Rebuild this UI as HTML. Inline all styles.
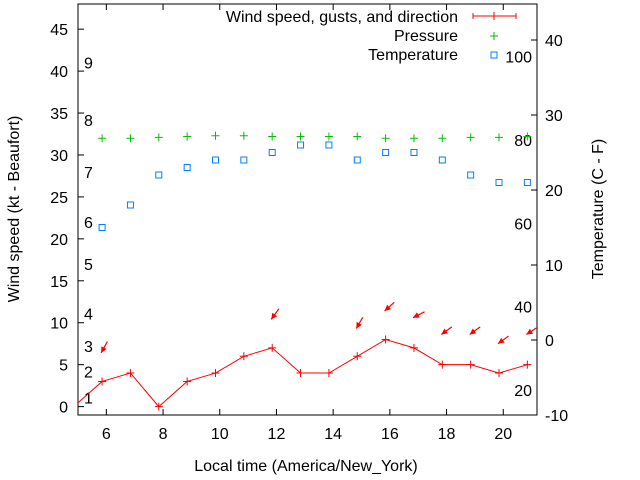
<!DOCTYPE html>
<html><head><meta charset="utf-8"><style>
html,body{margin:0;padding:0;background:#fff}
svg{display:block;font-family:"Liberation Sans",sans-serif}
</style></head><body>
<svg id="chart" width="640" height="480" viewBox="0 0 640 480">
<defs><clipPath id="plotclip"><rect x="78" y="4" width="459" height="411"/></clipPath></defs>
<rect x="0" y="0" width="640" height="480" fill="#fff"/>
<g id="axes"></g>
<g id="marks" clip-path="url(#plotclip)"></g>
<g id="legend">
  <text x="458" y="22" font-size="16" text-anchor="end">Wind speed, gusts, and direction</text>
  <line x1="473" y1="16" x2="516" y2="16" stroke="#f00" stroke-width="1"/>
  <line x1="473" y1="13" x2="473" y2="19" stroke="#f00"/>
  <line x1="516" y1="13" x2="516" y2="19" stroke="#f00"/>
  <path d="M490 16h8M494 12v8" stroke="#f00"/>
  <text x="458" y="41" font-size="16" text-anchor="end">Pressure</text>
  <path d="M490 36h8M494 32v8" stroke="#00c000"/>
  <text x="458" y="60" font-size="16" text-anchor="end">Temperature</text>
  <rect x="491" y="52" width="6" height="6" fill="none" stroke="#0080ff"/>
</g>
<text x="306" y="471" font-size="16" text-anchor="middle">Local time (America/New_York)</text>
<text transform="translate(19,209) rotate(-90)" font-size="16" text-anchor="middle">Wind speed (kt - Beaufort)</text>
<text transform="translate(603,209) rotate(-90)" font-size="16" text-anchor="middle">Temperature (C - F)</text>
</svg>
<script>
const times = [4.85,5.85,6.85,7.85,8.85,9.85,10.85,11.85,12.85,13.85,14.85,15.85,16.85,17.85,18.85,19.85,20.85];
const windSpeed = [0,3,4,0,3,4,6,7,4,4,6,8,7,5,5,4,5];
const pressure = [32.0,32.0,32.0,32.1,32.2,32.3,32.3,32.2,32.2,32.2,32.2,32.0,32.0,32.0,32.1,32.1,32.2];
const temperature = [15,15,18,22,23,24,24,25,26,26,24,25,25,24,22,21,21];
const arrowTimes = [5.85,11.85,14.85,15.85,16.85,17.85,18.85,19.85,20.85];
const arrowGust = [6.4,10.4,9.3,11.4,10.6,8.6,8.6,7.5,8.6];
const arrowDir = [29,36,30,48,63,54,54,54,57];
const xTicks = [6,8,10,12,14,16,18,20];
const yLeftTicks = [0,5,10,15,20,25,30,35,40,45];
const yRightTicks = [-10,0,10,20,30,40];
const beaufortLabels = ["1","2","3","4","5","6","7","8","9"];
const beaufortKt = [1.1,4.2,7.2,11.1,17.0,22.0,28.0,34.2,41.0];
const fahrenheitLabels = [20,40,60,80,100];

const L=78,R=537,T=4,B=415;
const xMin=5,xMax=21.19,yMin=-1,yMax=48,tMin=-10,tMax=44.8;
const sx=v=>L+(v-xMin)/(xMax-xMin)*(R-L);
const sy=v=>B-(v-yMin)/(yMax-yMin)*(B-T);
const st=v=>B-(v-tMin)/(tMax-tMin)*(B-T);
const NS="http://www.w3.org/2000/svg";
function mk(tag,attrs,parent){const e=document.createElementNS(NS,tag);for(const k in attrs)e.setAttribute(k,attrs[k]);parent.appendChild(e);return e;}
const axes=document.getElementById('axes'), marks=document.getElementById('marks');

let frame=mk('rect',{x:L,y:T,width:R-L,height:B-T,fill:'none',stroke:'#000','stroke-width':1},axes);


xTicks.forEach(v=>{const x=sx(v);
  let t=mk('path',{d:`M${x} ${B}v-6M${x} ${T}v6`,stroke:'#000'},axes);
  
  
  let l=mk('text',{x:x,y:B+24,'font-size':16,'text-anchor':'middle'},axes);l.textContent=v;
  
  
});
yLeftTicks.forEach(v=>{const y=sy(v);
  let t=mk('path',{d:`M${L} ${y}h6`,stroke:'#000'},axes);
  
  
  let l=mk('text',{x:L-10,y:y+6,'font-size':16,'text-anchor':'end'},axes);l.textContent=v;
  
  
});
yRightTicks.forEach(v=>{const y=st(v);
  let t=mk('path',{d:`M${R} ${y}h-6`,stroke:'#000'},axes);
  
  
  let l=mk('text',{x:R+8,y:y+6,'font-size':16,'text-anchor':'start'},axes);l.textContent=v;
  
  
});
beaufortLabels.forEach((s,i)=>{
  let l=mk('text',{x:84,y:sy(beaufortKt[i])+6,'font-size':16},axes);l.textContent=s;
  
  
});
fahrenheitLabels.forEach(f=>{
  let l=mk('text',{x:532,y:st((f-32)*5/9)+6,'font-size':16,'text-anchor':'end'},axes);l.textContent=f;
  
  
});

let pts=times.map((t,i)=>sx(t)+','+sy(windSpeed[i])).join(' ');
let wl=mk('polyline',{points:pts,fill:'none',stroke:'#f00','stroke-width':1},marks);


times.forEach((t,i)=>{const x=sx(t),y=sy(windSpeed[i]);
  let m=mk('path',{d:`M${x-4} ${y}h8M${x} ${y-4}v8`,stroke:'#f00'},marks);
  
  
});
arrowTimes.forEach((t,i)=>{
  const hx=sx(t)-1,hy=sy(arrowGust[i]);const a=arrowDir[i]*Math.PI/180,len=13;
  const ux=Math.sin(a),uy=-Math.cos(a);
  const tx=hx+ux*len,ty=hy+uy*len;
  const px=-uy,py=ux;
  let g=mk('g',{},marks);
  
  
  mk('line',{x1:tx,y1:ty,x2:hx,y2:hy,stroke:'#f00','stroke-width':1.2},g);
  mk('polygon',{points:`${hx},${hy} ${hx+ux*6+px*3},${hy+uy*6+py*3} ${hx+ux*6-px*3},${hy+uy*6-py*3}`,fill:'#f00'},g);
});
times.forEach((t,i)=>{const x=sx(t),y=sy(pressure[i]);
  let m=mk('path',{d:`M${x-4} ${y}h8M${x} ${y-4}v8`,stroke:'#00c000'},marks);
  
  
});
times.forEach((t,i)=>{const x=sx(t),y=st(temperature[i]);
  let m=mk('rect',{x:x-3,y:y-3,width:6,height:6,fill:'none',stroke:'#0080ff'},marks);
  
  
});
</script>
</body></html>
